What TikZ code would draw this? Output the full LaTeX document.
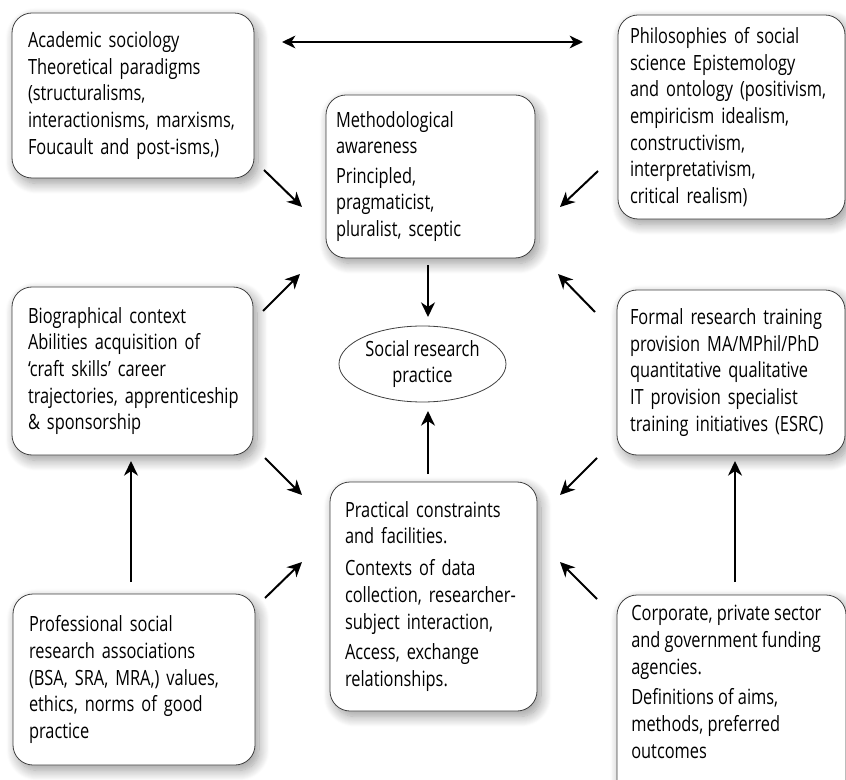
\documentclass[tikz,border=0pt]{standalone}
\usepackage{fontspec}
\setmainfont{Open Sans}[FakeStretch=0.78]
\usetikzlibrary{arrows.meta,shadows.blur,shapes.geometric,fit}
\newcommand\Lx[1]{\mbox{#1}}
\begin{document}
\begin{tikzpicture}[x=0.75pt,y=-0.75pt,
  txt/.style={align=left, font=\fontsize{15.75pt}{20pt}\selectfont},
  box/.style={txt, draw=black!75, line width=0.6pt, rounded corners=15pt, fill=white, inner ysep=0pt,
    blur shadow={shadow xshift=3pt, shadow yshift=-4pt, shadow blur radius=8pt, shadow blur steps=12, shadow opacity=40}},
  arr/.style={line width=1.5pt, -{Stealth[length=11pt,width=10.5pt,inset=3.5pt]}},
  darr/.style={line width=1.5pt, {Stealth[length=10pt,width=9.5pt,inset=3pt]}-{Stealth[length=10pt,width=9.5pt,inset=3pt]}},
]
\useasboundingbox (0,0) rectangle (846,780);

\node[box, minimum width=181.5pt, minimum height=123.75pt, text width=157.5pt, inner xsep=12pt] (A) at (133,95.5)
 {\Lx{Academic sociology}\\\Lx{Theoretical paradigms}\\\Lx{(structuralisms,}\\\Lx{interactionisms, marxisms,}\\\Lx{Foucault and post-isms,)}};
\node[box, minimum width=156.75pt, minimum height=122.25pt, text width=141.75pt, inner xsep=7.5pt] (M) at (430.5,176.5)
 {\Lx{Methodological}\\\Lx{awareness}\\[2pt]\Lx{Principled,}\\\Lx{pragmaticist,}\\\Lx{pluralist, sceptic}};
\node[box, minimum width=170.25pt, minimum height=153pt, text width=152.25pt, inner xsep=9pt] (P) at (731.5,117)
 {\Lx{Philosophies of social}\\\Lx{science Epistemology}\\\Lx{and ontology (positivism,}\\\Lx{empiricism idealism,}\\\Lx{constructivism,}\\\Lx{interpretativism,}\\\Lx{critical realism)}};
\node[box, minimum width=180.75pt, minimum height=126pt, text width=156.75pt, inner xsep=12pt] (B) at (132.5,371)
 {\Lx{Biographical context}\\\Lx{Abilities acquisition of}\\\Lx{‘craft skills’ career}\\\Lx{trajectories, apprenticeship}\\\Lx{\& sponsorship}};
\node[box, minimum width=171pt, minimum height=123.75pt, text width=151.5pt, inner xsep=9.75pt] (F) at (731,372.5)
 {\Lx{Formal research training}\\\Lx{provision MA/MPhil/PhD}\\\Lx{quantitative qualitative}\\\Lx{IT provision specialist}\\\Lx{training initiatives (ESRC)}};
\node[box, minimum width=155.25pt, minimum height=171.75pt, text width=132.75pt, inner xsep=11.25pt] (Pr) at (433.5,596.5)
 {\Lx{Practical constraints}\\\Lx{and facilities.}\\[4pt]\Lx{Contexts of data}\\\Lx{collection, researcher-}\\\Lx{subject interaction,}\\[3pt]\Lx{Access, exchange}\\\Lx{relationships.}};
\node[box, minimum width=181.5pt, minimum height=128.25pt, text width=157.5pt, inner xsep=12pt] (Pf) at (134,679.5)
 {\Lx{Professional social}\\\Lx{research associations}\\\Lx{(BSA, SRA, MRA,) values,}\\\Lx{ethics, norms of good}\\\Lx{practice}};
\coordinate (ctl) at (617,595); \coordinate (cbr) at (846,805);
\node[box, fit=(ctl)(cbr), inner sep=0pt] (C) {};
\node[txt, anchor=north west, inner sep=0pt] (Ct) at (631,605)
 {Corporate, private sector\\and government funding\\agencies.\\[3pt]Definitions of aims,\\methods, preferred\\outcomes};
\node[draw=black!75, line width=0.6pt, ellipse, fill=white, minimum width=125.25pt, minimum height=57pt,
  txt, align=center, inner sep=0pt] (E) at (422.5,364) {Social research\\practice};

% free ends of the connectors
\coordinate (dl) at (282,42);  \coordinate (dr) at (583,42);
\coordinate (am1) at (264,170); \coordinate (am2) at (302,207);
\coordinate (pm1) at (598,171); \coordinate (pm2) at (560,207);
\coordinate (bm1) at (263,311); \coordinate (bm2) at (300,274);
\coordinate (fm1) at (595,312); \coordinate (fm2) at (558,274);
\coordinate (me1) at (428,265); \coordinate (me2) at (428,317);
\coordinate (pe1) at (428,474); \coordinate (pe2) at (428,411);
\coordinate (bp1) at (265,458); \coordinate (bp2) at (302,495);
\coordinate (fp1) at (597,458); \coordinate (fp2) at (560,495);
\coordinate (qp1) at (265,598); \coordinate (qp2) at (302,562);
\coordinate (cp1) at (597,599); \coordinate (cp2) at (560,562);
\coordinate (qb1) at (131,582); \coordinate (qb2) at (131,461);
\coordinate (cf1) at (735,582); \coordinate (cf2) at (735,461);

\draw[darr] (dl) -- (dr);
\draw[arr] (am1) -- (am2);
\draw[arr] (pm1) -- (pm2);
\draw[arr] (bm1) -- (bm2);
\draw[arr] (fm1) -- (fm2);
\draw[arr] (me1) -- (me2);
\draw[arr] (pe1) -- (pe2);
\draw[arr] (bp1) -- (bp2);
\draw[arr] (fp1) -- (fp2);
\draw[arr] (qp1) -- (qp2);
\draw[arr] (cp1) -- (cp2);
\draw[arr] (qb1) -- (qb2);
\draw[arr] (cf1) -- (cf2);
\end{tikzpicture}
\end{document}
